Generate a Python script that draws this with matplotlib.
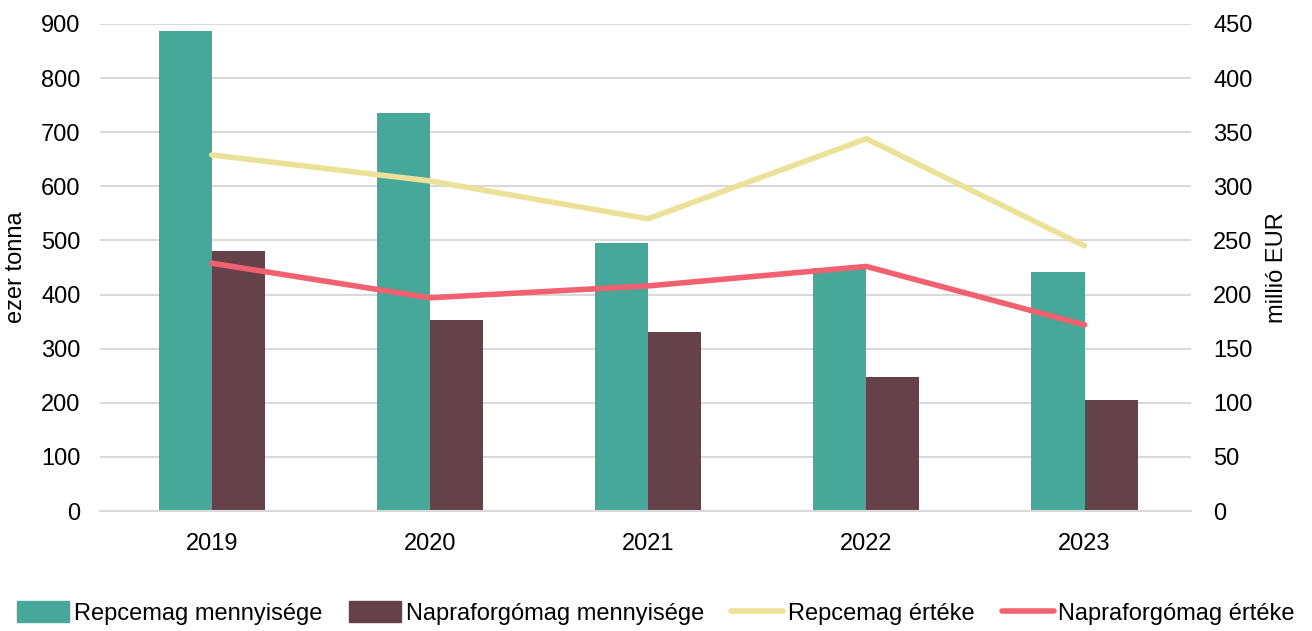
import numpy as np
import matplotlib.pyplot as plt
from matplotlib.lines import Line2D
from matplotlib.patches import Patch

plt.rcParams["font.family"] = ["Liberation Sans", "DejaVu Sans"]

# Data
years = ["2019", "2020", "2021", "2022", "2023"]
repce_qty = [887, 735, 495, 449, 442]        # ezer tonna
napra_qty = [480, 353, 331, 248, 205]        # ezer tonna
repce_val = [329, 305, 270, 344, 245]        # millió EUR
napra_val = [229, 197, 208, 226, 172]        # millió EUR

TEAL = "#46A898"
BROWN = "#654249"
YELLOW = "#ECE198"
RED = "#F2616F"
GRID = "#D9D9D9"
FS = 17

fig = plt.figure(figsize=(13.12, 6.31), dpi=100)
ax = fig.add_axes([100 / 1312, 1 - 511 / 631, 1091 / 1312, 487 / 631])
ax2 = ax.twinx()

x = np.arange(len(years))
w = 0.243
ax.bar(x - w / 2, repce_qty, w, color=TEAL, zorder=2)
ax.bar(x + w / 2, napra_qty, w, color=BROWN, zorder=2)

ax2.plot(x, repce_val, color=YELLOW, lw=4, solid_capstyle="round", zorder=3)
ax2.plot(x, napra_val, color=RED, lw=4, solid_capstyle="round", zorder=3)

# slight left shift so categories sit where the original has them
ax.set_xlim(-0.512, len(years) - 0.512)
ax.set_ylim(0, 900)
ax.set_yticks(range(0, 901, 100))
ax2.set_ylim(0, 450)
ax2.set_yticks(range(0, 451, 50))
ax.set_xticks(x)
ax.set_xticklabels(years)

ax.grid(axis="y", color=GRID, lw=1.5, zorder=0)
ax.set_axisbelow(True)
for a in (ax, ax2):
    for s in a.spines.values():
        s.set_visible(False)
    a.tick_params(length=0, labelsize=FS)
ax.spines["bottom"].set_visible(True)
ax.spines["bottom"].set_color(GRID)
ax.spines["bottom"].set_linewidth(1.5)
ax.tick_params(axis="x", pad=16)
ax.tick_params(axis="y", pad=14)
ax2.tick_params(axis="y", pad=16)

ax.set_ylabel("ezer tonna", fontsize=FS, labelpad=10)
ax2.set_ylabel("millió EUR", fontsize=FS, labelpad=10)

handles = [
    Patch(color=TEAL, label="Repcemag mennyisége"),
    Patch(color=BROWN, label="Napraforgómag mennyisége"),
    Line2D([], [], color=YELLOW, lw=4, solid_capstyle="round", label="Repcemag értéke"),
    Line2D([], [], color=RED, lw=4, solid_capstyle="round", label="Napraforgómag értéke"),
]
fig.legend(handles=handles, loc="center", bbox_to_anchor=(0.5, 1 - 613 / 631),
           ncol=4, frameon=False, fontsize=FS, handlelength=2.2, handleheight=1.0,
           handletextpad=0.2, columnspacing=1.15, borderpad=0)

fig.savefig("out.png", dpi=100)
